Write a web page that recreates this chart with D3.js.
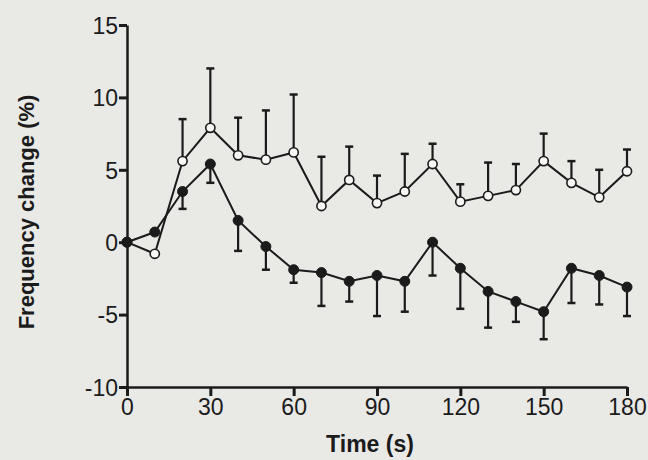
<!DOCTYPE html>
<html lang="en">
<head>
<meta charset="UTF-8">
<title>Frequency change</title>
<style>
  body { margin: 0; background: #e9e9e6; }
  svg { display: block; }
  .tick text { font-family: "Liberation Sans", Arial, Helvetica, sans-serif; font-size: 23px; fill: #1b1b1b; }
</style>
</head>
<body>
<script src="https://d3js.org/d3.v7.min.js"></script>
<script>
  // time points (s)
  const times = [0, 10, 20, 30, 40, 50, 60, 70, 80, 90, 100, 110, 120, 130, 140, 150, 160, 170, 180];

  // open circles: mean and upward error bar
  const openMean = [0, -0.8, 5.6, 7.9, 6.0, 5.7, 6.2, 2.5, 4.3, 2.7, 3.5, 5.4, 2.8, 3.2, 3.6, 5.6, 4.1, 3.1, 4.9];
  const openErr  = [0, 0, 2.9, 4.1, 2.6, 3.4, 4.0, 3.4, 2.3, 1.9, 2.6, 1.4, 1.2, 2.3, 1.8, 1.9, 1.5, 1.9, 1.5];

  // filled circles: mean and downward error bar
  const filledMean = [0, 0.7, 3.5, 5.4, 1.5, -0.3, -1.9, -2.1, -2.7, -2.3, -2.7, 0, -1.8, -3.4, -4.1, -4.8, -1.8, -2.3, -3.1];
  const filledErr  = [0, 0, 1.2, 1.3, 2.1, 1.6, 0.9, 2.3, 1.4, 2.8, 2.1, 2.3, 2.8, 2.5, 1.4, 1.9, 2.4, 2.0, 2.0];

  const xTicks = [0, 30, 60, 90, 120, 150, 180];
  const yTicks = [-10, -5, 0, 5, 10, 15];

  const ink = "#1b1b1b";

  const svg = d3.select("body").append("svg").attr("width", 648).attr("height", 460);

  const x = d3.scaleLinear().domain([0, 180]).range([127, 627]);
  const y = d3.scaleLinear().domain([-10, 15]).range([387, 25]);

  // axes (plain hyphen for negatives, as in the figure)
  const yAxis = svg.append("g")
    .attr("transform", `translate(${x(0)},0)`)
    .call(d3.axisLeft(y).tickValues(yTicks).tickFormat(d => String(d))
      .tickSize(8).tickSizeOuter(0).tickPadding(1));
  const xAxis = svg.append("g")
    .attr("transform", `translate(0,${y(-10)})`)
    .call(d3.axisBottom(x).tickValues(xTicks).tickFormat(d => String(d))
      .tickSize(9).tickSizeOuter(0).tickPadding(3));

  [yAxis, xAxis].forEach(g => {
    g.select(".domain").attr("stroke", ink).attr("stroke-width", 2.5);
    g.selectAll(".tick line").attr("stroke", ink).attr("stroke-width", 3);
    g.attr("font-family", null).attr("font-size", null);
  });
  yAxis.selectAll(".tick text").attr("dy", "0.36em");

  // axis titles
  svg.append("text")
    .attr("x", 370).attr("y", 452)
    .attr("text-anchor", "middle")
    .style("font-family", "'Liberation Sans', Arial, Helvetica, sans-serif")
    .style("font-size", "23px").style("font-weight", "bold").style("fill", ink)
    .text("Time (s)");

  svg.append("text")
    .attr("transform", "translate(34,212) rotate(-90)")
    .attr("text-anchor", "middle")
    .style("font-family", "'Liberation Sans', Arial, Helvetica, sans-serif")
    .style("font-size", "22px").style("font-weight", "bold").style("fill", ink)
    .text("Frequency change (%)");

  const openData = times.map((t, i) => ({ t: t, m: openMean[i], e: openErr[i] }));
  const filledData = times.map((t, i) => ({ t: t, m: filledMean[i], e: filledErr[i] }));

  // error bars
  function errorBars(data, dir, cls) {
    const g = svg.append("g").attr("class", cls);
    const bars = data.filter(d => d.e > 0);
    g.selectAll("line.stem").data(bars).enter().append("line")
      .attr("x1", d => x(d.t)).attr("x2", d => x(d.t))
      .attr("y1", d => y(d.m)).attr("y2", d => y(d.m + dir * d.e))
      .attr("stroke", ink).attr("stroke-width", 2.2);
    g.selectAll("line.cap").data(bars).enter().append("line")
      .attr("x1", d => x(d.t) - 4).attr("x2", d => x(d.t) + 4)
      .attr("y1", d => y(d.m + dir * d.e)).attr("y2", d => y(d.m + dir * d.e))
      .attr("stroke", ink).attr("stroke-width", 2.5);
  }
  errorBars(openData, 1, "open-err");
  errorBars(filledData, -1, "filled-err");

  const line = d3.line().x(d => x(d.t)).y(d => y(d.m));

  svg.append("path").datum(openData)
    .attr("d", line).attr("fill", "none").attr("stroke", ink).attr("stroke-width", 2);
  svg.append("path").datum(filledData)
    .attr("d", line).attr("fill", "none").attr("stroke", ink).attr("stroke-width", 2);

  svg.selectAll(".open-pt").data(openData).enter().append("circle")
    .attr("class", "open-pt")
    .attr("cx", d => x(d.t)).attr("cy", d => y(d.m)).attr("r", 4.6)
    .attr("fill", "#f7f7f5").attr("stroke", ink).attr("stroke-width", 1.6);

  svg.selectAll(".filled-pt").data(filledData).enter().append("circle")
    .attr("class", "filled-pt")
    .attr("cx", d => x(d.t)).attr("cy", d => y(d.m)).attr("r", 5)
    .attr("fill", ink).attr("stroke", ink).attr("stroke-width", 1);
</script>
</body>
</html>
